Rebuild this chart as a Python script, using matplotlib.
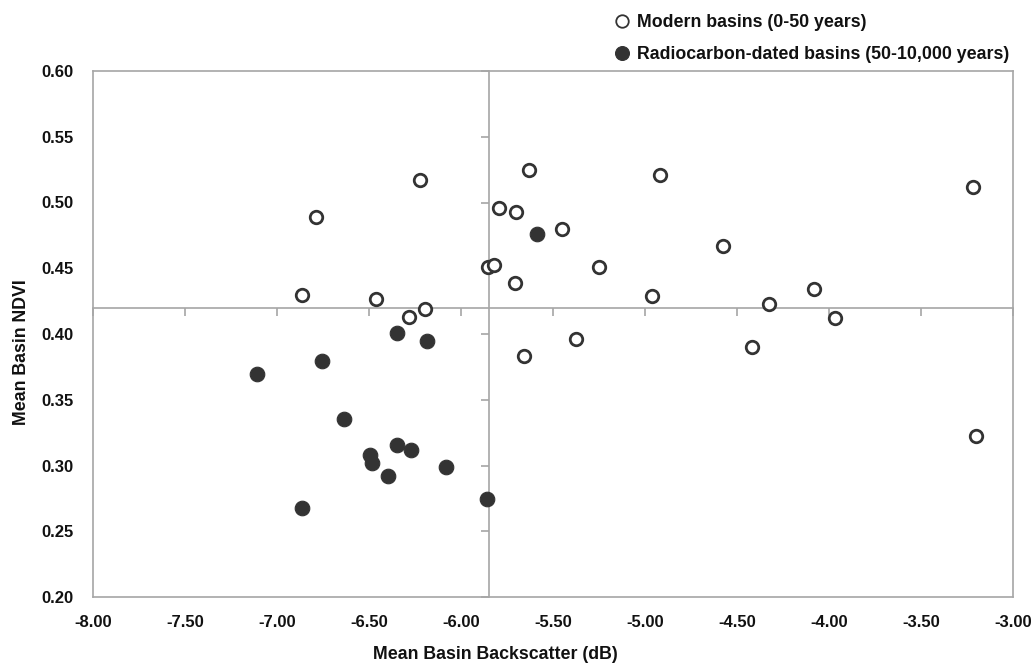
import matplotlib
matplotlib.use("Agg")
import matplotlib.pyplot as plt
from matplotlib.lines import Line2D

plt.rcParams['font.family'] = ['Liberation Sans', 'DejaVu Sans']

# ---- data ----
modern_x = [-6.866, -6.788, -6.464, -6.283, -6.196, -6.223, -5.855, -5.821,
            -5.793, -5.707, -5.701, -5.630, -5.658, -5.453, -5.377, -5.250,
            -4.960, -4.918, -4.578, -4.418, -4.325, -4.082, -3.966, -3.219, -3.201]
modern_y = [0.4294, 0.4890, 0.4269, 0.4130, 0.4188, 0.5170, 0.4510, 0.4522,
            0.4960, 0.4390, 0.4928, 0.5245, 0.3833, 0.4798, 0.3960, 0.4510,
            0.4287, 0.5211, 0.4672, 0.3899, 0.4226, 0.4340, 0.4122, 0.5118, 0.3224]

radio_x = [-7.110, -6.866, -6.754, -6.638, -6.495, -6.484, -6.399, -6.350,
           -6.350, -6.272, -6.183, -6.082, -5.860, -5.589]
radio_y = [0.3698, 0.2679, 0.3795, 0.3356, 0.3082, 0.3017, 0.2923, 0.3153,
           0.4005, 0.3118, 0.3944, 0.2989, 0.2745, 0.4758]

x_ticks = [-8.0, -7.5, -7.0, -6.5, -6.0, -5.5, -5.0, -4.5, -4.0, -3.5, -3.0]
y_ticks = [0.20, 0.25, 0.30, 0.35, 0.40, 0.45, 0.50, 0.55, 0.60]
x_cross = -5.85
y_cross = 0.42

labels = ["Modern basins (0-50 years)", "Radiocarbon-dated basins (50-10,000 years)"]
x_title = "Mean Basin Backscatter (dB)"
y_title = "Mean Basin NDVI"

W, H = 1035, 663
fig = plt.figure(figsize=(W / 100, H / 100), dpi=100)
rect = [93 / W, 1 - 597 / H, 920 / W, 526 / H]
ax = fig.add_axes(rect)

grey = '#a6a6a6'
dark = '#333333'

ax.set_xlim(-8, -3)
ax.set_ylim(0.2, 0.6)
ax.set_xticks(x_ticks)
ax.set_yticks(y_ticks)
ax.set_xticklabels([f"{v:.2f}" for v in x_ticks])
ax.set_yticklabels([f"{v:.2f}" for v in y_ticks])
ax.tick_params(length=0, labelsize=12, colors='#111111')
ax.tick_params(axis='x', pad=13)
ax.tick_params(axis='y', pad=14)
for lab in ax.get_xticklabels() + ax.get_yticklabels():
    lab.set_fontweight('bold')
for s in ax.spines.values():
    s.set_color(grey)
    s.set_linewidth(1.2)

# crossing axes with tick marks
ax2 = fig.add_axes(rect, sharex=ax, sharey=ax)
ax2.patch.set_visible(False)
ax2.spines['top'].set_visible(False)
ax2.spines['right'].set_visible(False)
ax2.spines['left'].set_position(('data', x_cross))
ax2.spines['bottom'].set_position(('data', y_cross))
for k in ('left', 'bottom'):
    ax2.spines[k].set_color(grey)
    ax2.spines[k].set_linewidth(1.2)
ax2.tick_params(direction='out', length=6, width=1.2, color=grey,
                labelbottom=False, labelleft=False)
ax2.set_zorder(1)

h1 = ax2.plot(modern_x, modern_y, linestyle='none', marker='o', ms=9,
              mfc='white', mec=dark, mew=2.0, label=labels[0], zorder=3)[0]
h2 = ax2.plot(radio_x, radio_y, linestyle='none', marker='o', ms=10.5,
              mfc=dark, mec=dark, mew=0.8, label=labels[1], zorder=3)[0]
for h in (h1, h2):
    h.set_clip_on(False)

ax.set_xlabel(x_title, fontsize=12.8, fontweight='bold', color='#111111')
ax.xaxis.set_label_coords((495 - 93) / 920, (597 - 646) / 526)
ax.set_ylabel(y_title, fontsize=12.8, fontweight='bold', color='#111111')
ax.yaxis.set_label_coords((30 - 93) / 920, (597 - 352) / 526)

lh1 = Line2D([], [], linestyle='none', marker='o', ms=9, mfc='white', mec=dark, mew=1.3)
lh2 = Line2D([], [], linestyle='none', marker='o', ms=10, mfc=dark, mec=dark, mew=0.8)
leg = fig.legend([lh1, lh2], labels, loc='upper left',
                 bbox_to_anchor=(613 / W, 1 - 14 / H), frameon=False,
                 prop={'size': 12.75, 'weight': 'bold'}, handlelength=1.0,
                 handletextpad=0.35, labelspacing=0.85, borderpad=0, borderaxespad=0)
for t in leg.get_texts():
    t.set_color('#111111')

fig.savefig("out.png", dpi=100, facecolor='white')
